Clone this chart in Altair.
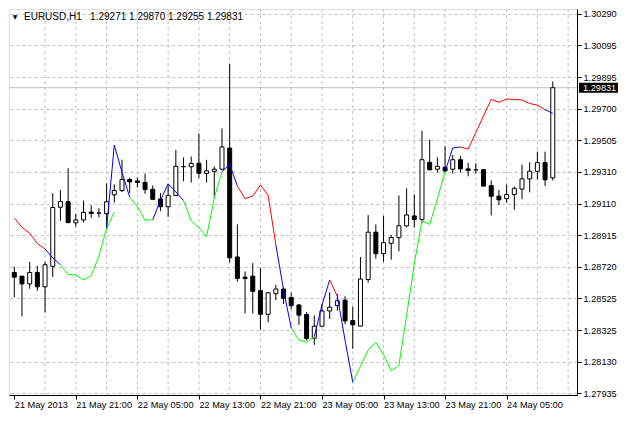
import altair as alt
import pandas as pd

symbol = "EURUSD,H1"

opens = [1.28684, 1.28661, 1.28613, 1.28684, 1.28595, 1.28722, 1.29089, 1.29123, 1.28992, 1.29010,
         1.29059, 1.29053, 1.29049, 1.29166, 1.29192, 1.29261, 1.29252, 1.29243, 1.29200, 1.29140,
         1.29092, 1.29162, 1.29341, 1.29340, 1.29362, 1.29299, 1.29312, 1.29325, 1.29456, 1.28780,
         1.28655, 1.28661, 1.28571, 1.28424, 1.28552, 1.28581, 1.28528, 1.28482, 1.28423, 1.28276,
         1.28350, 1.28445, 1.28478, 1.28512, 1.28385, 1.28351, 1.28640, 1.28934, 1.28801, 1.28865,
         1.28900, 1.28973, 1.29035, 1.29013, 1.29368, 1.29325, 1.29337, 1.29325, 1.29384, 1.29327,
         1.29321, 1.29322, 1.29223, 1.29158, 1.29142, 1.29168, 1.29202, 1.29265, 1.29312, 1.29366,
         1.29271]
highs = [1.28720, 1.28663, 1.28750, 1.28726, 1.28750, 1.29176, 1.29196, 1.29331, 1.29047, 1.29130,
         1.29101, 1.29083, 1.29237, 1.29231, 1.29384, 1.29273, 1.29273, 1.29297, 1.29224, 1.29178,
         1.29231, 1.29444, 1.29398, 1.29404, 1.29547, 1.29383, 1.29341, 1.29578, 1.29979, 1.28983,
         1.28690, 1.28742, 1.28712, 1.28560, 1.28607, 1.28592, 1.28558, 1.28488, 1.28438, 1.28417,
         1.28486, 1.28561, 1.28548, 1.28536, 1.28472, 1.28780, 1.29041, 1.28982, 1.29035, 1.28915,
         1.29162, 1.29206, 1.29169, 1.29563, 1.29509, 1.29398, 1.29469, 1.29413, 1.29407, 1.29365,
         1.29362, 1.29325, 1.29255, 1.29196, 1.29230, 1.29218, 1.29353, 1.29368, 1.29434, 1.29434,
         1.29870]
lows = [1.28530, 1.28411, 1.28583, 1.28571, 1.28435, 1.28656, 1.29005, 1.28988, 1.28968, 1.28994,
        1.29023, 1.29026, 1.28954, 1.29118, 1.29184, 1.29178, 1.29211, 1.29172, 1.29136, 1.29065,
        1.29029, 1.29160, 1.29251, 1.29242, 1.29270, 1.29242, 1.29148, 1.29321, 1.28746, 1.28627,
        1.28429, 1.28429, 1.28329, 1.28375, 1.28512, 1.28488, 1.28455, 1.28359, 1.28262, 1.28234,
        1.28348, 1.28395, 1.28446, 1.28363, 1.28210, 1.28349, 1.28621, 1.28769, 1.28750, 1.28763,
        1.28815, 1.28964, 1.28964, 1.28991, 1.29319, 1.29305, 1.29306, 1.29297, 1.29305, 1.29281,
        1.29297, 1.29217, 1.29038, 1.29102, 1.29118, 1.29073, 1.29139, 1.29181, 1.29261, 1.29221,
        1.29255]
closes = [1.28655, 1.28613, 1.28684, 1.28595, 1.28732, 1.29087, 1.29124, 1.28994, 1.29010, 1.29057,
          1.29050, 1.29053, 1.29123, 1.29193, 1.29261, 1.29246, 1.29243, 1.29198, 1.29138, 1.29092,
          1.29163, 1.29343, 1.29341, 1.29361, 1.29300, 1.29315, 1.29325, 1.29463, 1.28775, 1.28647,
          1.28646, 1.28567, 1.28424, 1.28558, 1.28581, 1.28524, 1.28478, 1.28419, 1.28274, 1.28350,
          1.28445, 1.28468, 1.28508, 1.28383, 1.28359, 1.28643, 1.28934, 1.28800, 1.28869, 1.28901,
          1.28974, 1.29041, 1.29013, 1.29384, 1.29321, 1.29343, 1.29315, 1.29384, 1.29327, 1.29317,
          1.29321, 1.29220, 1.29157, 1.29135, 1.29168, 1.29206, 1.29265, 1.29313, 1.29366, 1.29259,
          1.29831]

# indicator line: colored runs (color, first bar, values)
seg_colors = ["#FF0000", "#0000FF", "#00FF00", "#0000FF", "#00FF00", "#0000FF", "#00FF00", "#0000FF",
              "#FF0000", "#0000FF", "#00FF00", "#0000FF", "#FF0000", "#0000FF", "#00FF00", "#0000FF",
              "#FF0000", "#0000FF"]
seg_starts = [0, 4, 6, 12, 15, 18, 22, 27, 29, 34, 36, 39, 41, 42, 44, 56, 58, 69]
seg_prices = [
    [1.29023, 1.28964, 1.28928, 1.28863, 1.28830],
    [1.28830, 1.28774, 1.28732],
    [1.28732, 1.28671, 1.28668, 1.28637, 1.28665, 1.28785, 1.28958, 1.29059],
    [1.28958, 1.29475, 1.29306, 1.29152],
    [1.29152, 1.29093, 1.29008, 1.29011],
    [1.29011, 1.29132, 1.29234, 1.29184, 1.29130],
    [1.29130, 1.29005, 1.28961, 1.28907, 1.29148, 1.29309],
    [1.29309, 1.29356, 1.29220],
    [1.29220, 1.29142, 1.29158, 1.29227, 1.29162, 1.28857],
    [1.28857, 1.28577, 1.28339],
    [1.28339, 1.28265, 1.28250, 1.28286],
    [1.28286, 1.28482, 1.28637],
    [1.28637, 1.28536],
    [1.28536, 1.28262, 1.28002],
    [1.28002, 1.28102, 1.28203, 1.28250, 1.28173, 1.28072, 1.28108, 1.28417, 1.28738, 1.29005,
     1.28982, 1.29142, 1.29309],
    [1.29309, 1.29457, 1.29463],
    [1.29463, 1.29450, 1.29553, 1.29656, 1.29758, 1.29741, 1.29761, 1.29758, 1.29755, 1.29733,
     1.29723, 1.29695],
    [1.29695, 1.29672],
]

price_ticks = [1.27935, 1.28130, 1.28325, 1.28525, 1.28720, 1.28915, 1.29110, 1.29310,
               1.29505, 1.29700, 1.29895, 1.30095, 1.30290]
time_label_bars = [0, 8, 16, 24, 32, 40, 48, 56, 64]
time_labels = ["21 May 2013", "21 May 21:00", "22 May 05:00", "22 May 13:00", "22 May 21:00",
               "23 May 05:00", "23 May 13:00", "23 May 21:00", "24 May 05:00"]
grid_bars = list(range(4, 73, 4))

# ---------------------------------------------------------------
W, H = 568, 386
FONT = "Liberation Sans, Arial, sans-serif"
FS = 9.2
GRID = "#C0C0C0"

candles = pd.DataFrame({
    "bar": list(range(len(opens))),
    "o": opens, "h": highs, "l": lows, "c": closes,
})
candles["fill"] = ["white" if c >= o else "black" for o, c in zip(opens, closes)]

rows = []
for sid, (col, start, vals) in enumerate(zip(seg_colors, seg_starts, seg_prices)):
    for k, v in enumerate(vals):
        rows.append({"seg": sid, "bar": start + k, "price": v, "color": col})
line_df = pd.DataFrame(rows)

grid_df = pd.DataFrame({"bar": grid_bars})
last_df = pd.DataFrame({"price": [closes[-1]], "label": [f"{closes[-1]:.5f}"]})
NB = "\u00a0"
title_df = pd.DataFrame({"t": [f"{symbol}{NB * 3}{opens[-1]:.5f}{NB}{highs[-1]:.5f}{NB}"
                               f"{lows[-1]:.5f}{NB}{closes[-1]:.5f}"]})
tri_df = pd.DataFrame({"t": ["\u25BC"]})

xs = alt.Scale(domain=[-0.0375, 72.5], nice=False, zero=False)
ys = alt.Scale(domain=[1.279231, 1.303197], nice=False, zero=False)

label_js = "[" + ",".join(f"'{s}'" for s in time_labels) + "]"
xaxis = alt.Axis(values=time_label_bars,
                 labelExpr=f"{label_js}[round(datum.value / 8)]",
                 labelAlign="left", labelFont=FONT, labelFontSize=FS, labelColor="black",
                 tickColor="black", tickSize=4, domainColor="black", grid=False, title=None,
                 labelPadding=1, labelFlush=False, labelOverlap=False)
yaxis = alt.Axis(orient="right", values=price_ticks, format=".5f",
                 labelFont=FONT, labelFontSize=FS, labelColor="black",
                 tickColor="black", tickSize=4, labelPadding=2, domainColor="black",
                 grid=True, gridColor=GRID, gridDash=[3, 3], title=None,
                 labelOverlap=False, labelFlush=False)

X = alt.X("bar:Q", scale=xs, axis=xaxis)

def Y(field):
    return alt.Y(field, scale=ys, axis=yaxis)

vgrid = alt.Chart(grid_df).mark_rule(color=GRID, strokeDash=[3, 3], strokeWidth=1).encode(
    x=X, y=alt.value(0), y2=alt.value(H))

price_line = alt.Chart(last_df).mark_rule(color=GRID, strokeWidth=1).encode(
    y=Y("price:Q"), x=alt.value(0), x2=alt.value(W))

wicks = alt.Chart(candles).mark_rule(color="black", strokeWidth=1, clip=True).encode(
    x=X, y=Y("l:Q"), y2="h:Q")

bodies = alt.Chart(candles).mark_bar(size=4, stroke="black", strokeWidth=1, clip=True).encode(
    x=X, y=Y("o:Q"), y2="c:Q", fill=alt.Fill("fill:N", scale=None))

lines = alt.Chart(line_df).mark_line(strokeWidth=1, clip=True).encode(
    x=X, y=Y("price:Q"), detail="seg:N", order="bar:Q",
    color=alt.Color("color:N", scale=None))

tri = alt.Chart(tri_df).mark_text(align="center", baseline="middle", font="DejaVu Sans",
                                  fontSize=6, color="black").encode(
    x=alt.value(6), y=alt.value(8), text="t:N")

title = alt.Chart(title_df).mark_text(align="left", baseline="middle", font=FONT,
                                      fontSize=10, color="black").encode(
    x=alt.value(15), y=alt.value(8), text="t:N")

price_box = alt.Chart(last_df).mark_rect(color="black", yOffset=-5, y2Offset=5).encode(
    y=Y("price:Q"), y2="price:Q", x=alt.value(W + 2), x2=alt.value(W + 41))

price_text = alt.Chart(last_df).mark_text(align="left", baseline="middle", font=FONT,
                                          fontSize=FS, color="white").encode(
    y=Y("price:Q"), x=alt.value(W + 6), text="label:N")

chart = alt.layer(vgrid, price_line, wicks, bodies, lines, tri, title, price_box, price_text).properties(
    width=W, height=H,
    padding={"left": 1, "top": 1, "right": 41, "bottom": 16},
    autosize=alt.AutoSizeParams(type="none"),
).configure_view(stroke="black", strokeWidth=1).configure(background="white")

chart.save("out.html", embed_options={"renderer": "svg", "actions": False})
